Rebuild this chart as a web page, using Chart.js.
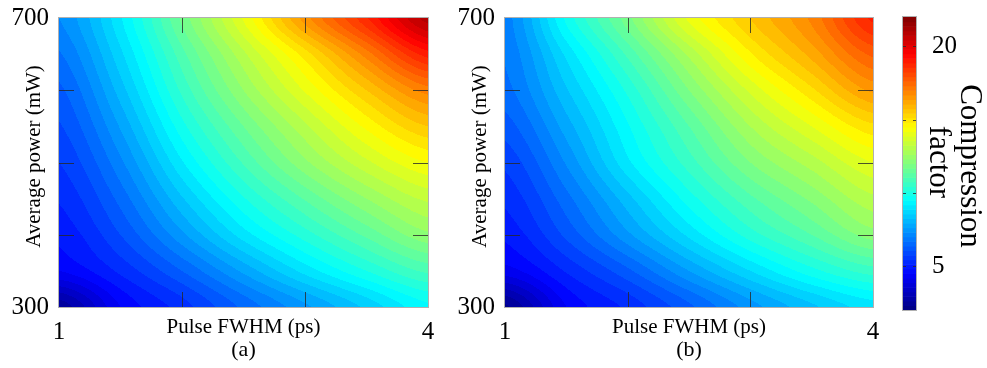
<!DOCTYPE html>
<html>
<head>
<meta charset="utf-8">
<script src="https://cdn.jsdelivr.net/npm/chart.js@4.4.1/dist/chart.umd.min.js"></script>
<style>
  body { margin: 0; background: #fff; }
  #wrap { position: relative; width: 987px; height: 368px; overflow: hidden; }
  canvas { position: absolute; top: 0; }
</style>
</head>
<body>
<div id="wrap">
  <canvas id="chartA" width="446" height="368" style="left:0px"></canvas>
  <canvas id="chartB" width="450" height="368" style="left:446px"></canvas>
  <canvas id="colorBar" width="101" height="368" style="left:886px"></canvas>
</div>
<script>
// axes of the grid
const pulseFwhm = [1, 1.5, 2, 2.5, 3, 3.5, 4]; // ps
const avgPower = [300, 350, 400, 450, 500, 550, 600, 650, 700]; // mW

// compression factor, one row per power (300 -> 700), one column per FWHM
const factorA = [
  [2.5, 4.4, 5.4, 6.5, 7.5, 8.5, 9.5],
  [4.4, 5.3, 6.4, 7.7, 8.95, 10.0, 10.9],
  [4.9, 6.0, 7.5, 9.0, 10.2, 11.3, 12.3],
  [5.25, 6.55, 8.35, 9.95, 11.25, 12.4, 13.3],
  [5.6, 7.1, 9.15, 10.85, 12.3, 13.5, 14.4],
  [5.95, 7.65, 9.85, 11.6, 13.1, 14.5, 15.6],
  [6.3, 8.2, 10.5, 12.4, 14.05, 15.6, 17.0],
  [6.75, 8.7, 11.05, 13.1, 15.0, 17.0, 19.0],
  [7.2, 9.15, 11.7, 14.05, 16.6, 18.75, 21.0]
];
const factorB = [
  [2.3, 4.4, 5.3, 6.3, 7.4, 8.3, 9.0],
  [4.2, 5.25, 6.3, 7.6, 8.8, 9.85, 10.6],
  [4.9, 6.1, 7.5, 8.9, 10.2, 11.2, 12.2],
  [5.3, 6.65, 8.25, 9.8, 11.1, 12.1, 13.1],
  [5.7, 7.25, 9.1, 10.6, 12.0, 13.0, 14.0],
  [6.2, 7.8, 9.55, 11.2, 12.8, 14.0, 15.1],
  [6.65, 8.35, 10.1, 12.0, 13.7, 15.1, 16.5],
  [6.85, 8.9, 10.9, 12.9, 14.75, 16.15, 17.7],
  [7.0, 9.7, 11.85, 14.1, 15.6, 16.9, 18.9]
];

// ticks
const xTickVals = [1, 2, 3, 4];
const xTickLabels = ["1", "", "", "4"];
const yTickVals = [300, 400, 500, 600, 700];
const yTickLabels = ["300", "", "", "", "700"];
const barTickVals = [5, 10, 15, 20];
const barTickLabels = ["5", "", "", "20"];
const barMin = 2;
const barMax = 22;
const bandStep = 0.4; // contour levels

const serif = "'Liberation Serif', 'Times New Roman', serif";
Chart.defaults.font.family = serif;
Chart.defaults.color = "#000";

// jet colormap
function jet(v) {
  const t = Math.min(1, Math.max(0, (v - barMin) / (barMax - barMin)));
  const f = (c) => Math.round(255 * Math.min(1, Math.max(0, 1.5 - Math.abs(4 * t - c))));
  return [f(3), f(2), f(1)];
}

function catmull(p0, p1, p2, p3, t) {
  return p1 + 0.5 * t * (p2 - p0 + t * (2 * p0 - 5 * p1 + 4 * p2 - p3 + t * (3 * (p1 - p2) + p3 - p0)));
}

function fracIndex(arr, v) {
  if (v <= arr[0]) return 0;
  for (let i = 0; i < arr.length - 1; i++) {
    if (v <= arr[i + 1]) return i + (v - arr[i]) / (arr[i + 1] - arr[i]);
  }
  return arr.length - 1;
}

// smooth value between grid nodes
function sample(grid, fx, fy) {
  const nx = pulseFwhm.length, ny = avgPower.length;
  const i = Math.min(Math.floor(fx), nx - 2), j = Math.min(Math.floor(fy), ny - 2);
  const cl = (k, n) => Math.max(0, Math.min(n - 1, k));
  const rows = [];
  for (let d = -1; d <= 2; d++) {
    const r = grid[cl(j + d, ny)];
    rows.push(catmull(r[cl(i - 1, nx)], r[i], r[i + 1], r[cl(i + 2, nx)], fx - i));
  }
  return catmull(rows[0], rows[1], rows[2], rows[3], fy - j);
}

function toPoints(grid) {
  const pts = [];
  avgPower.forEach((p, j) => pulseFwhm.forEach((t, i) => pts.push({ x: t, y: p, v: grid[j][i] })));
  return pts;
}

function heatmapPlugin(grid, panelLabel) {
  return {
    id: "heatmap",
    beforeDatasetsDraw(chart) {
      const { ctx, chartArea: a, scales: { x, y } } = chart;
      const w = Math.round(a.right - a.left), h = Math.round(a.bottom - a.top);
      const off = document.createElement("canvas");
      off.width = w;
      off.height = h;
      const octx = off.getContext("2d");
      const img = octx.createImageData(w, h);
      for (let py = 0; py < h; py++) {
        const fy = fracIndex(avgPower, y.getValueForPixel(a.top + py + 0.5));
        for (let px = 0; px < w; px++) {
          const fx = fracIndex(pulseFwhm, x.getValueForPixel(a.left + px + 0.5));
          let v = sample(grid, fx, fy);
          v = Math.floor((v - barMin) / bandStep) * bandStep + barMin + bandStep / 2;
          const c = jet(v);
          const k = (py * w + px) * 4;
          img.data[k] = c[0];
          img.data[k + 1] = c[1];
          img.data[k + 2] = c[2];
          img.data[k + 3] = 255;
        }
      }
      octx.putImageData(img, 0, 0);
      ctx.drawImage(off, a.left, a.top);
    },
    afterDraw(chart) {
      const { ctx, chartArea: a, scales: { x, y } } = chart;
      ctx.save();
      // inner tick marks
      ctx.strokeStyle = "rgba(40,40,40,0.8)";
      ctx.lineWidth = 1;
      ctx.beginPath();
      xTickVals.slice(1, -1).forEach((v) => {
        const px = Math.round(x.getPixelForValue(v)) + 0.5;
        ctx.moveTo(px, a.top); ctx.lineTo(px, a.top + 15);
        ctx.moveTo(px, a.bottom); ctx.lineTo(px, a.bottom - 15);
      });
      yTickVals.slice(1, -1).forEach((v) => {
        const py = Math.round(y.getPixelForValue(v)) + 0.5;
        ctx.moveTo(a.left, py); ctx.lineTo(a.left + 15, py);
        ctx.moveTo(a.right, py); ctx.lineTo(a.right - 15, py);
      });
      ctx.stroke();
      // frame
      ctx.strokeStyle = "#b0b0b0";
      ctx.strokeRect(a.left - 0.5, a.top - 0.5, a.right - a.left + 1, a.bottom - a.top + 1);
      // titles
      ctx.fillStyle = "#000";
      ctx.textAlign = "center";
      ctx.textBaseline = "alphabetic";
      ctx.font = "21px " + serif;
      const cx = (a.left + a.right) / 2;
      ctx.fillText("Pulse FWHM (ps)", cx, a.bottom + 26);
      ctx.font = "22px " + serif;
      ctx.fillText(panelLabel, cx, a.bottom + 49);
      ctx.font = "21px " + serif;
      ctx.translate(a.left - 19, (a.top + a.bottom) / 2 - 6);
      ctx.rotate(-Math.PI / 2);
      ctx.fillText("Average power (mW)", 0, 0);
      ctx.restore();
    }
  };
}

function heatmapConfig(grid, panelLabel, rightPad) {
  return {
    type: "scatter",
    data: { datasets: [{ data: toPoints(grid), pointRadius: 0 }] },
    options: {
      responsive: false,
      animation: false,
      layout: { padding: { top: 18, right: rightPad, left: 0, bottom: 0 } },
      plugins: { legend: { display: false }, tooltip: { enabled: false } },
      scales: {
        x: {
          type: "linear", min: 1, max: 4,
          afterBuildTicks: (s) => { s.ticks = xTickVals.map((v) => ({ value: v })); },
          afterFit: (s) => { s.height = 61; s.paddingLeft = 0; s.paddingRight = 0; },
          ticks: { callback: (v, i) => xTickLabels[i], font: { size: 25 }, padding: 10, maxRotation: 0, autoSkip: false },
          grid: { display: false, drawTicks: false },
          border: { display: false }
        },
        y: {
          type: "linear", min: 300, max: 700,
          afterBuildTicks: (s) => { s.ticks = yTickVals.map((v) => ({ value: v })); },
          afterFit: (s) => { s.width = 59; s.paddingTop = 0; s.paddingBottom = 0; },
          ticks: { callback: (v, i) => yTickLabels[i], font: { size: 25 }, padding: 10, autoSkip: false },
          grid: { display: false, drawTicks: false },
          border: { display: false }
        }
      }
    },
    plugins: [heatmapPlugin(grid, panelLabel)]
  };
}

new Chart(document.getElementById("chartA"), heatmapConfig(factorA, "(a)", 18));
new Chart(document.getElementById("chartB"), heatmapConfig(factorB, "(b)", 23));

// colour bar
const colorBarPlugin = {
  id: "colorBarStrip",
  afterDraw(chart) {
    const { ctx, chartArea: a, scales: { y } } = chart;
    ctx.save();
    const n = 64;
    for (let k = 0; k < n; k++) {
      const v0 = barMin + (barMax - barMin) * k / n;
      const v1 = barMin + (barMax - barMin) * (k + 1) / n;
      const top = y.getPixelForValue(v1), bot = y.getPixelForValue(v0);
      const c = jet((v0 + v1) / 2);
      ctx.fillStyle = "rgb(" + c.join(",") + ")";
      ctx.fillRect(a.left, top, a.right - a.left, bot - top + 0.6);
    }
    ctx.strokeStyle = "rgba(40,40,40,0.8)";
    ctx.beginPath();
    barTickVals.forEach((v) => {
      const py = Math.round(y.getPixelForValue(v)) + 0.5;
      ctx.moveTo(a.left, py); ctx.lineTo(a.left + 3, py);
      ctx.moveTo(a.right, py); ctx.lineTo(a.right - 3, py);
    });
    ctx.stroke();
    ctx.strokeStyle = "#b0b0b0";
    ctx.strokeRect(a.left - 0.5, a.top - 0.5, a.right - a.left + 1, a.bottom - a.top + 1);
    ctx.fillStyle = "#000";
    ctx.textAlign = "center";
    ctx.textBaseline = "alphabetic";
    ctx.font = "31px " + serif;
    ctx.translate(75, 166);
    ctx.rotate(Math.PI / 2);
    ctx.fillText("Compression", 0, 0);
    ctx.fillText("factor", -4, 31);
    ctx.restore();
  }
};

new Chart(document.getElementById("colorBar"), {
  type: "scatter",
  data: { datasets: [] },
  options: {
    responsive: false,
    animation: false,
    layout: { padding: { top: 17, right: 0, left: 17, bottom: 58 } },
    plugins: { legend: { display: false }, tooltip: { enabled: false } },
    scales: {
      x: { display: false, min: 0, max: 1 },
      y: {
        position: "right", min: barMin, max: barMax,
        afterBuildTicks: (s) => { s.ticks = barTickVals.map((v) => ({ value: v })); },
        afterFit: (s) => { s.width = 71; s.paddingTop = 0; s.paddingBottom = 0; },
        ticks: { callback: (v, i) => barTickLabels[i], font: { size: 25 }, padding: 16, autoSkip: false },
        grid: { display: false, drawTicks: false },
        border: { display: false }
      }
    }
  },
  plugins: [colorBarPlugin]
});
</script>
</body>
</html>
